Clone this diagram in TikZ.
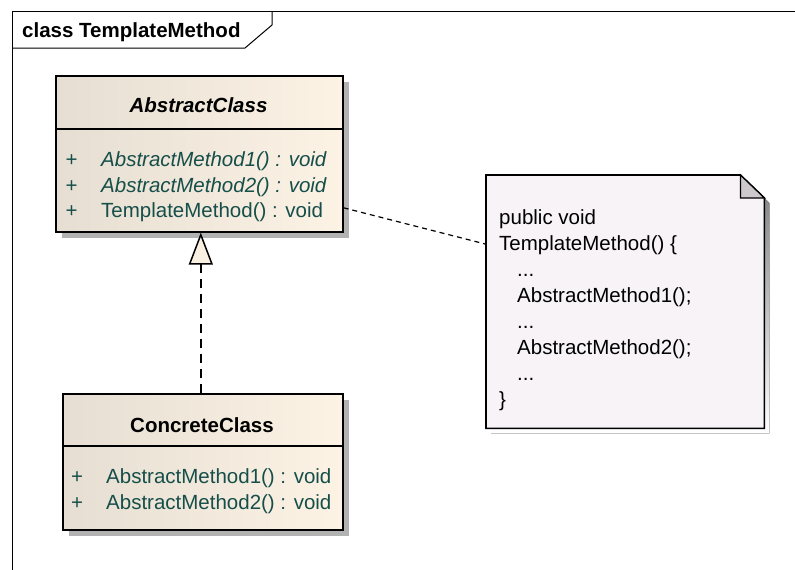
\documentclass[tikz,border=0pt]{standalone}
\usepackage{fontspec}
\setmainfont{Liberation Sans}
\usetikzlibrary{arrows.meta,shadows}
\definecolor{boxL}{RGB}{230,222,210}
\definecolor{boxR}{RGB}{252,243,229}
\definecolor{cream}{RGB}{250,240,226}
\definecolor{meth}{RGB}{22,78,74}
\definecolor{notefill}{RGB}{247,243,247}
\definecolor{foldfill}{RGB}{204,200,204}
\definecolor{shade}{RGB}{178,178,178}
\tikzset{
  classbox/.style={draw=black, line width=1.6pt, left color=boxL, right color=boxR,
    anchor=north west, inner sep=0pt,
    drop shadow={shadow xshift=6pt, shadow yshift=-6pt, fill=shade, opacity=1}},
  ctitle/.style={anchor=base, font=\fontsize{20.5}{25}\selectfont\bfseries},
  plus/.style={anchor=base, text=meth},
  mtext/.style={anchor=base west, text=meth, inner sep=0pt},
  divider/.style={line width=1.5pt},
  realize/.style={line width=1.5pt, dash pattern=on 9pt off 6pt,
    -{Triangle[open, length=32pt, width=24pt, fill=cream, line width=1.5pt]}},
  notelink/.style={line width=1.2pt, dash pattern=on 5pt off 4pt}
}
\begin{document}
\begin{tikzpicture}[x=1pt, y=-1pt, font=\fontsize{20.5}{25}\selectfont]
\useasboundingbox (0,0) rectangle (795,570);
% frame
\draw[line width=1pt] (12,570) -- (12,11) -- (795,11);
\draw[line width=1pt] (12,48) -- (245,48) -- (272,25) -- (272,11);
\node[anchor=base west, inner sep=0pt, font=\fontsize{20.5}{25}\selectfont\bfseries] (frametitle) at (22,37) {class TemplateMethod};

% AbstractClass
\node[classbox, minimum width=287pt, minimum height=156pt] (abs) at (55,75) {};
\draw[divider] (55,129) -- (342,129);
\node[ctitle, font=\fontsize{20.5}{25}\selectfont\bfseries\itshape] (absname) at (198.5,112) {AbstractClass};
\node[plus] (ap1) at (71.5,166) {+};
\node[plus] (ap2) at (71.5,192) {+};
\node[plus] (ap3) at (71.5,217) {+};
\node[mtext, font=\fontsize{20.5}{25}\selectfont\itshape] (am1) at (101,166) {AbstractMethod1() : void};
\node[mtext, font=\fontsize{20.5}{25}\selectfont\itshape] (am2) at (101,192) {AbstractMethod2() : void};
\node[mtext] (am3) at (101,217) {TemplateMethod() : void};

% ConcreteClass
\node[classbox, minimum width=280pt, minimum height=136pt] (conc) at (62,393) {};
\draw[divider] (62,446) -- (342,446);
\node[ctitle] (concname) at (202,432) {ConcreteClass};
\node[plus] (cp1) at (77,483) {+};
\node[plus] (cp2) at (77,509) {+};
\node[mtext] (cm1) at (106,483) {AbstractMethod1() : void};
\node[mtext] (cm2) at (106,509) {AbstractMethod2() : void};

% Note
\node[anchor=north west, minimum width=278pt, minimum height=253pt, inner sep=0pt] (note) at (486,175) {};
\fill[shade] ([xshift=5pt,yshift=-5pt]note.north west) -- ([xshift=-19pt,yshift=-5pt]note.north east)
  -- ([xshift=5pt,yshift=-28pt]note.north east) -- ([xshift=5pt,yshift=-5pt]note.south east)
  -- ([xshift=5pt,yshift=-5pt]note.south west) -- cycle;
\draw[line width=1.6pt, fill=notefill] (note.north west) -- ([xshift=-24pt]note.north east)
  -- ([yshift=-23pt]note.north east) -- (note.south east) -- (note.south west) -- cycle;
\draw[line width=1.2pt, fill=foldfill] ([xshift=-24pt]note.north east) -- ([xshift=-24pt,yshift=-23pt]note.north east)
  -- ([yshift=-23pt]note.north east) -- cycle;
\node[anchor=north west, inner sep=0pt, align=left, font=\fontsize{20.5}{26.1}\selectfont] (notetext) at (499,209)
  {public void\\TemplateMethod() \{\\\hspace*{18pt}...\\\hspace*{18pt}AbstractMethod1();\\\hspace*{18pt}...\\\hspace*{18pt}AbstractMethod2();\\\hspace*{18pt}...\\\}};

% connectors
\draw[realize] ([xshift=-2pt]conc.north) -- ([xshift=1.5pt]abs.south);
\draw[notelink] ([yshift=-54pt]abs.east) -- ([yshift=57.5pt]note.west);
\end{tikzpicture}
\end{document}
